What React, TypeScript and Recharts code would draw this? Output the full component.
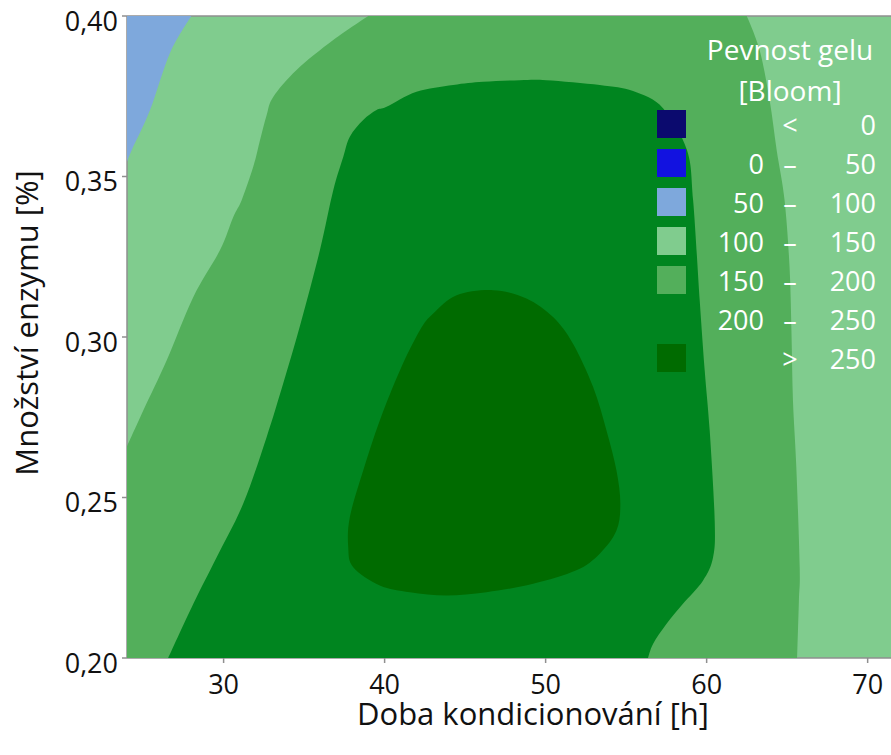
import { ScatterChart, Scatter, XAxis, YAxis, CartesianGrid, ReferenceLine, Legend } from 'recharts';

const FONT = "'Open Sans', 'Noto Sans', sans-serif";

const xDomain = [24, 71.45];
const yDomain = [0.2, 0.4];

// contour regions (x = doba kondicionovani [h], y = mnozstvi enzymu [%])
const region50to100 = [
  { x: 24.0, y: 0.4 }, { x: 28.0, y: 0.4 }, { x: 26.67, y: 0.3885 }, { x: 25.43, y: 0.3707 },
  { x: 24.29, y: 0.3582 }, { x: 24.0, y: 0.3546 },
];

const regionAbove150 = [
  { x: 24.0, y: 0.2 }, { x: 24.0, y: 0.2659 }, { x: 25.01, y: 0.2771 },
  { x: 26.46, y: 0.2927 }, { x: 28.12, y: 0.3125 }, { x: 29.77, y: 0.327 }, { x: 30.6, y: 0.3374 },
  { x: 31.12, y: 0.3426 }, { x: 31.84, y: 0.353 }, { x: 32.26, y: 0.3613 }, { x: 32.67, y: 0.3691 },
  { x: 33.08, y: 0.3748 }, { x: 34.53, y: 0.3832 }, { x: 36.81, y: 0.3925 }, { x: 38.98, y: 0.4 },
  { x: 62.49, y: 0.4 }, { x: 63.29, y: 0.3894 }, { x: 63.91, y: 0.3738 }, { x: 64.35, y: 0.3582 },
  { x: 64.84, y: 0.3426 }, { x: 65.15, y: 0.3217 }, { x: 65.27, y: 0.3012 }, { x: 65.36, y: 0.2803 },
  { x: 65.57, y: 0.2594 }, { x: 65.78, y: 0.2282 }, { x: 65.73, y: 0.2179 }, { x: 65.62, y: 0.2 },
];

const regionAbove200 = [
  { x: 26.56, y: 0.2 }, { x: 28.12, y: 0.2169 }, { x: 29.57, y: 0.2314 }, { x: 31.22, y: 0.2481 },
  { x: 32.67, y: 0.2688 }, { x: 33.7, y: 0.2855 }, { x: 34.8, y: 0.3045 }, { x: 35.98, y: 0.327 },
  { x: 36.81, y: 0.3457 }, { x: 37.43, y: 0.3561 }, { x: 37.84, y: 0.3624 },
  { x: 38.67, y: 0.3676 }, { x: 39.5, y: 0.3707 }, { x: 40.12, y: 0.3717 }, { x: 41.98, y: 0.3764 },
  { x: 44.26, y: 0.3785 }, { x: 46.12, y: 0.3795 }, { x: 48.39, y: 0.38 }, { x: 50.05, y: 0.38 },
  { x: 53.36, y: 0.3785 }, { x: 55.43, y: 0.3766 }, { x: 57.29, y: 0.3713 }, { x: 58.78, y: 0.3582 },
  { x: 59.16, y: 0.3426 }, { x: 59.57, y: 0.3114 }, { x: 59.88, y: 0.2896 }, { x: 60.19, y: 0.2709 },
  { x: 60.5, y: 0.2428 }, { x: 60.4, y: 0.2314 }, { x: 59.77, y: 0.2241 }, { x: 58.53, y: 0.2169 },
  { x: 57.5, y: 0.2106 }, { x: 56.67, y: 0.2044 }, { x: 56.36, y: 0.2 },
];

const regionAbove250 = [
  { x: 44.47, y: 0.313 }, { x: 46.74, y: 0.3146 }, { x: 48.81, y: 0.312 }, { x: 50.46, y: 0.3062 },
  { x: 51.7, y: 0.2979 }, { x: 52.95, y: 0.2844 }, { x: 53.78, y: 0.2709 }, { x: 54.4, y: 0.2584 },
  { x: 54.64, y: 0.2481 }, { x: 54.4, y: 0.2397 }, { x: 53.36, y: 0.2325 }, { x: 51.91, y: 0.2273 },
  { x: 49.22, y: 0.2231 }, { x: 46.33, y: 0.2205 }, { x: 43.85, y: 0.2195 }, { x: 41.57, y: 0.2205 },
  { x: 39.7, y: 0.2226 }, { x: 38.05, y: 0.2283 }, { x: 37.74, y: 0.2345 }, { x: 37.84, y: 0.2439 },
  { x: 38.67, y: 0.2584 }, { x: 39.7, y: 0.274 }, { x: 40.95, y: 0.2896 }, { x: 42.19, y: 0.3021 },
  { x: 43.02, y: 0.3073 },
];

const xTicks = [30, 40, 50, 60, 70];
const yTicks = [0.2, 0.25, 0.3, 0.35, 0.4];

// legend levels
const levelColors = ['#0b0a6e', '#1212e0', '#7ea8dc', '#80cc8e', '#53af5b', '#00851f', '#006b00'];
const levelFrom = ['', '0', '50', '100', '150', '200', ''];
const levelSep = ['<', '–', '–', '–', '–', '–', '>'];
const levelTo = ['0', '50', '100', '150', '200', '250', '250'];

const onEdge = (p: { x: number; y: number }) =>
  p.x <= xDomain[0] || p.x >= xDomain[1] || p.y <= yDomain[0] || p.y >= yDomain[1];

// closed smooth outline through the scatter points; points on the plot frame stay sharp
const polygon = (fill: string, data: { x: number; y: number }[]) => (props: any) => {
  const pts = props.points || [];
  const n = pts.length;
  if (!n) return <g />;
  const tan = pts.map((p: any, i: number) => {
    if (onEdge(data[i])) return { x: 0, y: 0 };
    const a = pts[(i - 1 + n) % n];
    const b = pts[(i + 1) % n];
    return { x: (b.x - a.x) / 2, y: (b.y - a.y) / 2 };
  });
  let d = `M${pts[0].x},${pts[0].y}`;
  for (let i = 0; i < n; i++) {
    const j = (i + 1) % n;
    const p = pts[i];
    const q = pts[j];
    if (onEdge(data[i]) && onEdge(data[j])) {
      d += ` L${q.x},${q.y}`;
    } else {
      d += ` C${p.x + tan[i].x / 3},${p.y + tan[i].y / 3} ${q.x - tan[j].x / 3},${q.y - tan[j].y / 3} ${q.x},${q.y}`;
    }
  }
  return <path d={d + ' Z'} fill={fill} stroke="none" />;
};

const noDot = () => <g />;

const fmtY = (v: number) => v.toFixed(2).replace('.', ',');

const YTick = ({ x, y, payload }: any) => (
  <text x={x - 2} y={y + 5} dy="0.355em" textAnchor="end" fontSize={27} fill="#111" fontFamily={FONT}>
    {fmtY(payload.value)}
  </text>
);

const XTick = ({ x, y, payload }: any) => (
  <text x={x} y={y} dy="0.71em" textAnchor="middle" fontSize={27} fill="#111" fontFamily={FONT}>
    {payload.value}
  </text>
);

const XTitle = ({ viewBox }: any) => (
  <text x={viewBox.x + viewBox.width / 2 + 24} y={viewBox.y + 67} textAnchor="middle" fontSize={31} fill="#111" fontFamily={FONT}>
    Doba kondicionování [h]
  </text>
);

const YTitle = ({ viewBox }: any) => {
  const cx = viewBox.x + 38;
  const cy = viewBox.y + viewBox.height / 2 - 14;
  return (
    <text x={cx} y={cy} transform={`rotate(-90 ${cx} ${cy})`} textAnchor="middle" fontSize={31} fill="#111" fontFamily={FONT}>
      Množství enzymu [%]
    </text>
  );
};

const LegendBox = () => (
  <div style={{ position: 'relative', width: 891, height: 400, color: '#fff', fontFamily: FONT, fontSize: 27 }}>
    <div style={{ position: 'absolute', left: 690, top: 29, width: 200, textAlign: 'center', lineHeight: '41px', fontSize: 28 }}>
      <div>Pevnost gelu</div>
      <div>[Bloom]</div>
    </div>
    {levelColors.map((c, i) => (
      <div key={i} style={{ position: 'absolute', left: 657, top: 104.5 + i * 39, height: 39, width: 230, display: 'flex', alignItems: 'center' }}>
        <div style={{ width: 29, height: 28, background: c }} />
        <div style={{ width: 78, textAlign: 'right' }}>{levelFrom[i]}</div>
        <div style={{ width: 52, textAlign: 'center' }}>{levelSep[i]}</div>
        <div style={{ width: 60, textAlign: 'right' }}>{levelTo[i]}</div>
      </div>
    ))}
  </div>
);

export default function App() {
  return (
    <div style={{ position: 'absolute', left: 0, top: 0, width: 891, height: 755, background: '#fff', overflow: 'hidden' }}>
      <ScatterChart width={891} height={755} margin={{ top: 16, right: 0, bottom: 0, left: 0 }}>
        <CartesianGrid fill="#80cc8e" fillOpacity={1} stroke="none" />
        <Scatter data={region50to100} fill="#7ea8dc" line={polygon('#7ea8dc', region50to100)} shape={noDot} isAnimationActive={false} legendType="none" />
        <Scatter data={regionAbove150} fill="#53af5b" line={polygon('#53af5b', regionAbove150)} shape={noDot} isAnimationActive={false} legendType="none" />
        <Scatter data={regionAbove200} fill="#00851f" line={polygon('#00851f', regionAbove200)} shape={noDot} isAnimationActive={false} legendType="none" />
        <Scatter data={regionAbove250} fill="#006b00" line={polygon('#006b00', regionAbove250)} shape={noDot} isAnimationActive={false} legendType="none" />
        <ReferenceLine y={0.4} stroke="#8f8f8f" strokeWidth={1.5} />
        <XAxis
          type="number"
          dataKey="x"
          domain={xDomain}
          allowDataOverflow
          ticks={xTicks}
          height={97}
          tickSize={5}
          tickMargin={12}
          tick={<XTick />}
          stroke="#8f8f8f"
          strokeWidth={1.5}
          label={<XTitle />}
        />
        <YAxis
          type="number"
          dataKey="y"
          domain={yDomain}
          allowDataOverflow
          ticks={yTicks}
          width={127}
          tickSize={5}
          tick={<YTick />}
          stroke="#8f8f8f"
          strokeWidth={1.5}
          label={<YTitle />}
        />
        <Legend
          layout="vertical"
          align="center"
          verticalAlign="middle"
          content={<LegendBox />}
          wrapperStyle={{ left: 0, top: 0, width: 891, height: 400, pointerEvents: 'none' }}
        />
      </ScatterChart>
    </div>
  );
}
